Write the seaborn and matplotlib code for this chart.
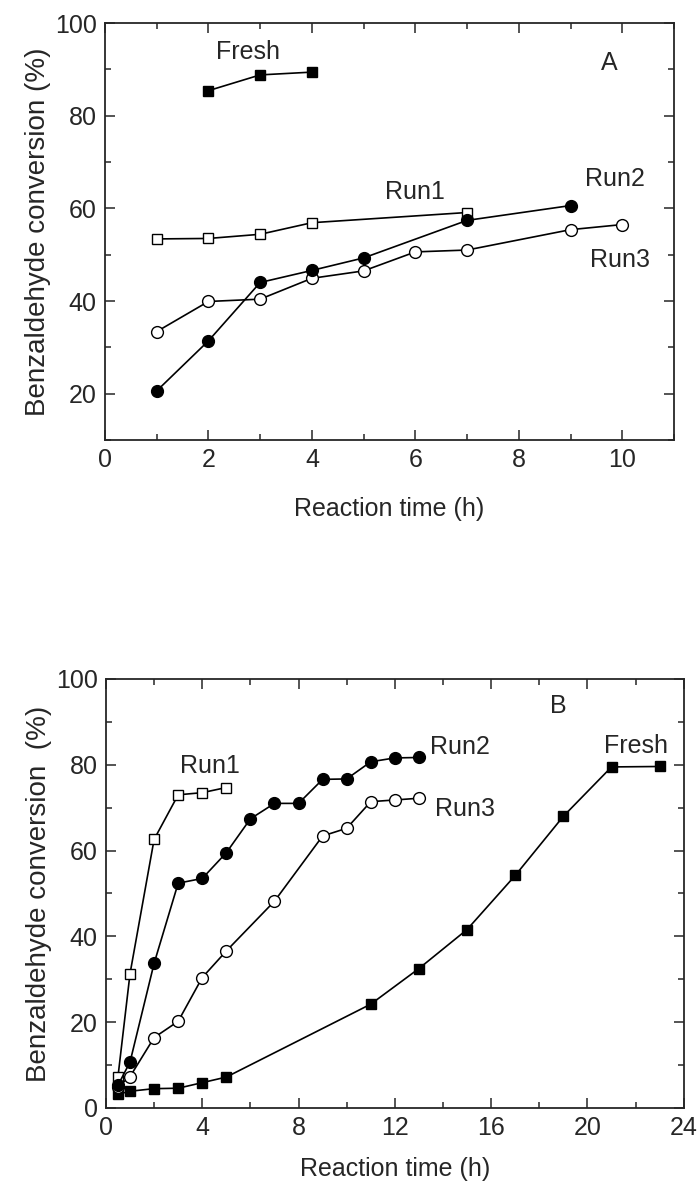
import matplotlib
matplotlib.use('Agg')
import matplotlib.pyplot as plt
from matplotlib.ticker import MultipleLocator
import seaborn as sns
import pandas as pd

# Panel A data (h, %)
a_fresh_t = [2, 3, 4]
a_fresh_y = [85.4, 88.8, 89.4]
a_run1_t = [1, 2, 3, 4, 7]
a_run1_y = [53.4, 53.5, 54.4, 56.9, 59.1]
a_run2_t = [1, 2, 3, 4, 5, 7, 9]
a_run2_y = [20.6, 31.4, 44.0, 46.6, 49.3, 57.4, 60.6]
a_run3_t = [1, 2, 3, 4, 5, 6, 7, 9, 10]
a_run3_y = [33.4, 39.9, 40.4, 44.9, 46.5, 50.6, 51.0, 55.4, 56.5]

# Panel B data (h, %)
b_run1_t = [0.5, 1, 2, 3, 4, 5]
b_run1_y = [7.3, 31.3, 62.6, 73.0, 73.5, 74.7]
b_run2_t = [0.5, 1, 2, 3, 4, 5, 6, 7, 8, 9, 10, 11, 12, 13]
b_run2_y = [5.3, 10.7, 33.7, 52.4, 53.5, 59.5, 67.4, 71.0, 71.0, 76.6, 76.7, 80.7, 81.6, 81.7]
b_run3_t = [0.5, 1, 2, 3, 4, 5, 7, 9, 10, 11, 12, 13]
b_run3_y = [5.0, 7.3, 16.4, 20.2, 30.4, 36.6, 48.2, 63.4, 65.2, 71.4, 71.8, 72.2]
b_fresh_t = [0.5, 1, 2, 3, 4, 5, 11, 13, 15, 17, 19, 21, 23]
b_fresh_y = [3.2, 3.9, 4.5, 4.6, 5.9, 7.2, 24.2, 32.5, 41.6, 54.2, 68.0, 79.5, 79.6]

sns.set_style('ticks')
plt.rcParams['font.family'] = ['Liberation Sans', 'DejaVu Sans']
plt.rcParams['axes.linewidth'] = 1.3

fig = plt.figure(figsize=(6.97, 11.86), dpi=100)
axA = fig.add_axes([0.1506, 0.629, 0.8164, 0.3516])
axB = fig.add_axes([0.152, 0.0658, 0.829, 0.3617])

# marker styles: (marker, filled)
styles = {
    'Fresh': ('s', True),
    'Run1': ('s', False),
    'Run2': ('o', True),
    'Run3': ('o', False),
}


def draw(ax, t, y, name):
    marker, filled = styles[name]
    df = pd.DataFrame({'t': t, 'y': y})
    sns.lineplot(data=df, x='t', y='y', ax=ax, color='black', linewidth=1.2,
                 estimator=None, sort=False, marker=marker,
                 markersize=8.5 if marker == 'o' else 7.5,
                 markerfacecolor='black' if filled else 'white',
                 markeredgecolor='black', markeredgewidth=1.0)


draw(axA, a_run1_t, a_run1_y, 'Run1')
draw(axA, a_run3_t, a_run3_y, 'Run3')
draw(axA, a_run2_t, a_run2_y, 'Run2')
draw(axA, a_fresh_t, a_fresh_y, 'Fresh')

draw(axB, b_fresh_t, b_fresh_y, 'Fresh')
draw(axB, b_run3_t, b_run3_y, 'Run3')
draw(axB, b_run1_t, b_run1_y, 'Run1')
draw(axB, b_run2_t, b_run2_y, 'Run2')

fs = 18
yfs = 20

axA.set_xlim(0, 11)
axA.set_ylim(10, 100)
axA.xaxis.set_major_locator(MultipleLocator(2))
axA.xaxis.set_minor_locator(MultipleLocator(1))
axA.yaxis.set_minor_locator(MultipleLocator(10))
axA.set_yticks([20, 40, 60, 80, 100])
axA.set_xlabel('Reaction time (h)', fontsize=fs, labelpad=18)
axA.set_ylabel('Benzaldehyde conversion (%)', fontsize=yfs, labelpad=3)

axB.set_xlim(0, 24)
axB.set_ylim(0, 100)
axB.xaxis.set_major_locator(MultipleLocator(4))
axB.xaxis.set_minor_locator(MultipleLocator(2))
axB.yaxis.set_major_locator(MultipleLocator(20))
axB.yaxis.set_minor_locator(MultipleLocator(10))
axB.set_xlabel('Reaction time (h)', fontsize=fs, labelpad=12)
axB.set_ylabel('Benzaldehyde conversion  (%)', fontsize=yfs, labelpad=3)

for ax in (axA, axB):
    ax.tick_params(which='both', direction='in', top=True, right=True,
                   labelsize=fs, width=1.1, pad=6)
    ax.tick_params(which='major', length=7)
    ax.tick_params(which='minor', length=4)

# annotations panel A
axA.text(2.76, 93.7, 'Fresh', fontsize=fs, ha='center', va='center')
axA.text(9.74, 91.4, 'A', fontsize=fs, ha='center', va='center')
axA.text(6.0, 63.6, 'Run1', fontsize=fs, ha='center', va='center')
axA.text(9.85, 66.3, 'Run2', fontsize=fs, ha='center', va='center')
axA.text(9.96, 48.9, 'Run3', fontsize=fs, ha='center', va='center')

# annotations panel B
axB.text(4.3, 79.6, 'Run1', fontsize=fs, ha='center', va='center')
axB.text(14.7, 84.1, 'Run2', fontsize=fs, ha='center', va='center')
axB.text(14.9, 69.7, 'Run3', fontsize=fs, ha='center', va='center')
axB.text(22.0, 84.4, 'Fresh', fontsize=fs, ha='center', va='center')
axB.text(18.8, 93.6, 'B', fontsize=fs, ha='center', va='center')

fig.savefig('out.png', dpi=100)
